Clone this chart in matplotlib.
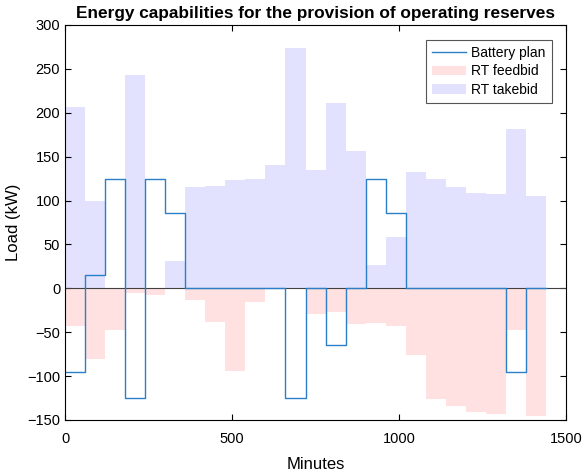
import numpy as np
import matplotlib.pyplot as plt

plt.rcParams["font.family"] = ["Liberation Sans", "DejaVu Sans"]

# hourly schedule, minutes since midnight
minutes = np.arange(0, 1441, 60)

battery_plan = [-95, 15, 125, -125, 125, 86, 0, 0, 0, 0, 0, -125,
                0, -65, 0, 125, 86, 0, 0, 0, 0, 0, -95, 0]
rt_feedbid = [-43, -81, -48, -5, -8, 0, -13, -38, -94, -16, 0, 0,
              -29, -27, -41, -39, -43, -76, -126, -134, -141, -143, -47, -145]
rt_takebid = [207, 100, 0, 243, 0, 31, 116, 117, 123, 125, 140, 274,
              135, 211, 157, 27, 58, 132, 124, 116, 109, 107, 181, 105]


def steps(vals):
    return np.append(vals, vals[-1])


fig = plt.figure(figsize=(5.82, 4.75), dpi=100)
ax = fig.add_axes([0.1117, 0.1158, 0.861, 0.8316])

ax.fill_between(minutes, steps(rt_feedbid), 0, step="post",
                color="#ffe1e1", lw=0, label="RT feedbid")
ax.fill_between(minutes, steps(rt_takebid), 0, step="post",
                color="#e2e2ff", lw=0, label="RT takebid")
ax.axhline(0, color="#404040", lw=0.8)
ax.step(minutes, steps(battery_plan), where="post",
        color="#2a7fc8", lw=1.0, label="Battery plan")

ax.set_xlim(0, 1500)
ax.set_ylim(-150, 300)
ax.set_xticks([0, 500, 1000, 1500])
ax.set_yticks(np.arange(-150, 301, 50))
ax.tick_params(direction="in", top=True, right=True, labelsize=10.5, length=4)
ax.tick_params(axis="x", pad=8.5)
for s in ax.spines.values():
    s.set_linewidth(0.8)

ax.set_xlabel("Minutes", fontsize=12, labelpad=8)
ax.set_ylabel("Load (kW)", fontsize=12)
ax.set_title("Energy capabilities for the provision of operating reserves",
             fontsize=12.4, fontweight="bold", pad=5)

h, l = ax.get_legend_handles_labels()
order = [2, 0, 1]
leg = ax.legend([h[i] for i in order], [l[i] for i in order], loc="upper right",
                bbox_to_anchor=(0.972, 0.962), fontsize=10, fancybox=False,
                framealpha=1, edgecolor="#555555", borderpad=0.45,
                handlelength=2.45, handletextpad=0.4, labelspacing=0.3,
                borderaxespad=0)
leg.get_frame().set_linewidth(0.8)

fig.savefig("out.png", dpi=100)
